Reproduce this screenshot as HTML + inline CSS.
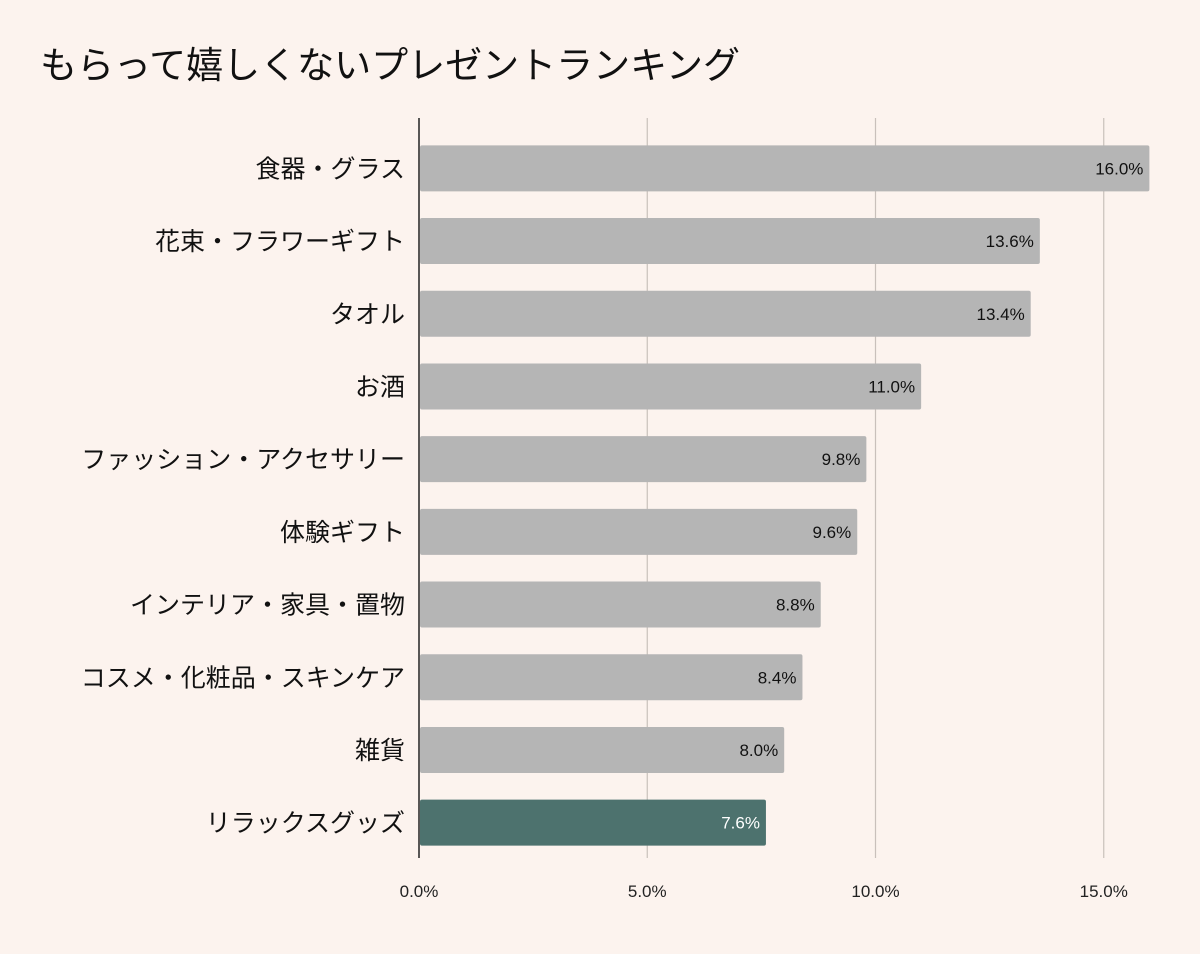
<!DOCTYPE html>
<html><head><meta charset="utf-8">
<style>
html,body{margin:0;padding:0;background:#fcf3ee;}
body{width:1200px;height:949px;overflow:hidden;font-family:"Liberation Sans","Noto Sans CJK JP",sans-serif;}
</style></head>
<body>
<svg id="chart" width="1200" height="949" xmlns="http://www.w3.org/2000/svg" style="font-family:'Liberation Sans','Noto Sans CJK JP',sans-serif">
<rect width="1200" height="949" fill="#fcf3ee"/>
<text x="40" y="78" font-size="37" fill="#111">もらって嬉しくないプレゼントランキング</text>
<g id="grid"></g><g id="bars"></g><g id="labels"></g>
</svg>
<script>
const categories=["食器・グラス","花束・フラワーギフト","タオル","お酒","ファッション・アクセサリー","体験ギフト","インテリア・家具・置物","コスメ・化粧品・スキンケア","雑貨","リラックスグッズ"];
const values=[16.0,13.6,13.4,11.0,9.8,9.6,8.8,8.4,8.0,7.6];
const highlight=[false,false,false,false,false,false,false,false,false,true];
const ticks=[0,5,10,15];
const tickLabels=["0.0%","5.0%","10.0%","15.0%"];
const NS="http://www.w3.org/2000/svg";
const x0=419,pxPer=45.65,top0=132,pitch=72.7,barH=46;
const xs=v=>x0+v*pxPer;
const yc=i=>top0+pitch*(i+0.5);
function mk(t,a,p){const e=document.createElementNS(NS,t);for(const k in a)e.setAttribute(k,a[k]);p.appendChild(e);return e;}
const g=document.getElementById('grid'),b=document.getElementById('bars'),l=document.getElementById('labels');
ticks.forEach((t,i)=>{
 const ln=mk('line',{x1:xs(t),x2:xs(t),y1:118,y2:858,stroke:i===0?'#222':'#c9c0bb','stroke-width':i===0?1.5:1.2},g);
 
 
 const tx=mk('text',{x:xs(t),y:897,'font-size':17,'text-anchor':'middle',fill:'#222'},l);
 tx.textContent=tickLabels[i];
 
 
});
categories.forEach((c,i)=>{
 const r=mk('rect',{x:x0+1,y:yc(i)-barH/2,width:xs(values[i])-x0-1,height:barH,rx:2,fill:highlight[i]?'#4d726e':'#b5b5b5'},b);
 
 
 const v=mk('text',{x:xs(values[i])-6,y:yc(i)+6,'font-size':17,'text-anchor':'end',fill:highlight[i]?'#fff':'#111'},l);
 v.textContent=values[i].toFixed(1)+'%';
 
 
 const ct=mk('text',{x:405,y:yc(i)+9,'font-size':25,'text-anchor':'end',fill:'#111'},l);
 ct.textContent=c;
 
 
});
</script>
</body></html>
